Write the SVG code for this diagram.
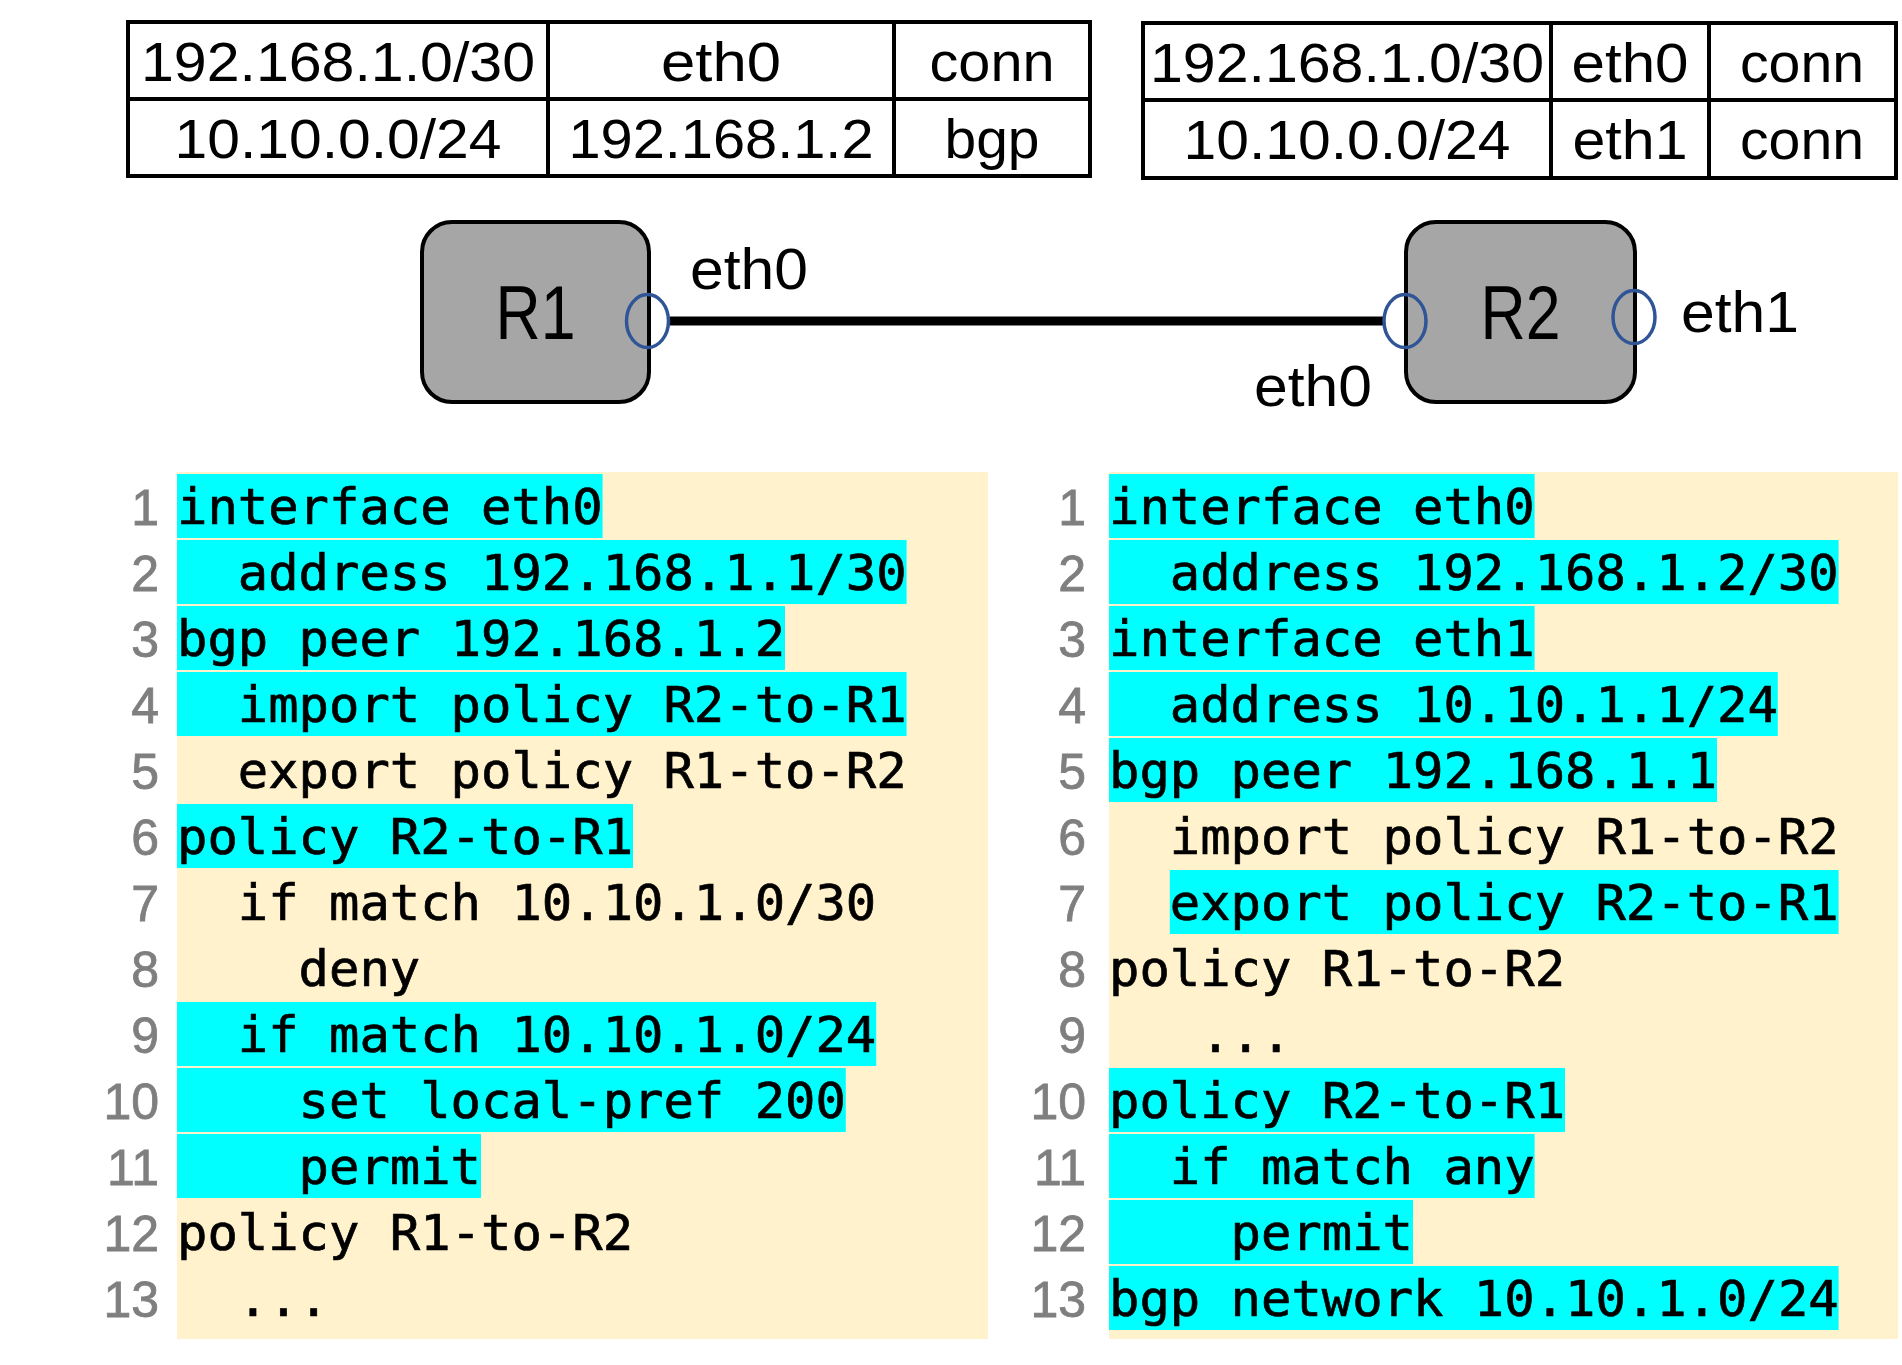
<svg xmlns="http://www.w3.org/2000/svg" width="1902" height="1365" viewBox="0 0 1902 1365">
<style>
.tbl{fill:#fff;stroke:#000;stroke-width:4}
.tl{stroke:#000;stroke-width:4}
.tt{font-family:"Liberation Sans",Arial,sans-serif;font-size:56px;fill:#000;text-anchor:middle}
.node{fill:#A6A6A6;stroke:#000;stroke-width:4}
.nt{font-family:"Liberation Sans",Arial,sans-serif;font-size:76px;fill:#000;text-anchor:middle}
.port{fill:none;stroke:#2F5597;stroke-width:3.5}
.pl{font-family:"Liberation Sans",Arial,sans-serif;font-size:57px;fill:#000}
.bg{fill:#FFF2CC}
.hl{fill:#00FFFF}
.code{font-family:"DejaVu Sans Mono","Liberation Mono",monospace;font-size:50.5px;fill:#000;stroke:#000;stroke-width:0.7}
.ln{font-family:"Liberation Sans",Arial,sans-serif;font-size:50px;fill:#7F7F7F;stroke:#7F7F7F;stroke-width:0.8;text-anchor:end}
</style>

<g id="table-R1">
  <rect class="tbl" x="128" y="22" width="962" height="154"/>
  <line class="tl" x1="128" y1="99" x2="1090" y2="99"/>
  <line class="tl" x1="548" y1="22" x2="548" y2="176"/>
  <line class="tl" x1="894" y1="22" x2="894" y2="176"/>
  <text class="tt" x="338" y="81" textLength="394" lengthAdjust="spacingAndGlyphs">192.168.1.0/30</text>
  <text class="tt" x="721" y="81" textLength="120" lengthAdjust="spacingAndGlyphs">eth0</text>
  <text class="tt" x="992" y="81" textLength="125" lengthAdjust="spacingAndGlyphs">conn</text>
  <text class="tt" x="338" y="158" textLength="327" lengthAdjust="spacingAndGlyphs">10.10.0.0/24</text>
  <text class="tt" x="721" y="158" textLength="305" lengthAdjust="spacingAndGlyphs">192.168.1.2</text>
  <text class="tt" x="992" y="158" textLength="95" lengthAdjust="spacingAndGlyphs">bgp</text>
</g>

<g id="table-R2">
  <rect class="tbl" x="1143" y="23" width="753" height="155"/>
  <line class="tl" x1="1143" y1="100" x2="1896" y2="100"/>
  <line class="tl" x1="1551" y1="23" x2="1551" y2="178"/>
  <line class="tl" x1="1709" y1="23" x2="1709" y2="178"/>
  <text class="tt" x="1347" y="82" textLength="394" lengthAdjust="spacingAndGlyphs">192.168.1.0/30</text>
  <text class="tt" x="1630" y="82" textLength="117" lengthAdjust="spacingAndGlyphs">eth0</text>
  <text class="tt" x="1802" y="82" textLength="124" lengthAdjust="spacingAndGlyphs">conn</text>
  <text class="tt" x="1347" y="159" textLength="327" lengthAdjust="spacingAndGlyphs">10.10.0.0/24</text>
  <text class="tt" x="1630" y="159" textLength="115" lengthAdjust="spacingAndGlyphs">eth1</text>
  <text class="tt" x="1802" y="159" textLength="124" lengthAdjust="spacingAndGlyphs">conn</text>
</g>

<g id="connectors">
  <line x1="670" y1="321" x2="1383" y2="321" stroke="#000" stroke-width="9"/>
</g>

<g id="R1">
  <rect class="node" x="422" y="222" width="227" height="180" rx="30" ry="30"/>
  <text class="nt" x="535.5" y="339" textLength="80" lengthAdjust="spacingAndGlyphs">R1</text>
  <ellipse class="port" cx="647.5" cy="321" rx="21" ry="26.5"/>
  <text class="pl" x="690" y="289" textLength="118" lengthAdjust="spacingAndGlyphs">eth0</text>
</g>

<g id="R2">
  <rect class="node" x="1406" y="222" width="229" height="180" rx="30" ry="30"/>
  <text class="nt" x="1520.5" y="339" textLength="80" lengthAdjust="spacingAndGlyphs">R2</text>
  <ellipse class="port" cx="1405" cy="321" rx="21" ry="26.5"/>
  <ellipse class="port" cx="1634" cy="317" rx="21" ry="26.5"/>
  <text class="pl" x="1254" y="406" textLength="118" lengthAdjust="spacingAndGlyphs">eth0</text>
  <text class="pl" x="1681" y="332" textLength="118" lengthAdjust="spacingAndGlyphs">eth1</text>
</g>

<g id="config-R1">
  <rect class="bg" x="177" y="472" width="811" height="867"/>
  <rect class="hl" x="177" y="474" width="425.6" height="64"/>
  <rect class="hl" x="177" y="540" width="729.6" height="64"/>
  <rect class="hl" x="177" y="606" width="608" height="64"/>
  <rect class="hl" x="177" y="672" width="729.6" height="64"/>
  <rect class="hl" x="177" y="804" width="456" height="64"/>
  <rect class="hl" x="177" y="1002" width="699.2" height="64"/>
  <rect class="hl" x="177" y="1068" width="668.8" height="64"/>
  <rect class="hl" x="177" y="1134" width="304" height="64"/>
  <text class="ln" x="159" y="525">1</text>
  <text class="ln" x="159" y="591">2</text>
  <text class="ln" x="159" y="657">3</text>
  <text class="ln" x="159" y="723">4</text>
  <text class="ln" x="159" y="789">5</text>
  <text class="ln" x="159" y="855">6</text>
  <text class="ln" x="159" y="921">7</text>
  <text class="ln" x="159" y="987">8</text>
  <text class="ln" x="159" y="1053">9</text>
  <text class="ln" x="159" y="1119">10</text>
  <text class="ln" x="159" y="1185">11</text>
  <text class="ln" x="159" y="1251">12</text>
  <text class="ln" x="159" y="1317">13</text>
  <text class="code" x="177" y="524">interface eth0</text>
  <text class="code" x="237.8" y="590">address 192.168.1.1/30</text>
  <text class="code" x="177" y="656">bgp peer 192.168.1.2</text>
  <text class="code" x="237.8" y="722">import policy R2-to-R1</text>
  <text class="code" x="237.8" y="788">export policy R1-to-R2</text>
  <text class="code" x="177" y="854">policy R2-to-R1</text>
  <text class="code" x="237.8" y="920">if match 10.10.1.0/30</text>
  <text class="code" x="298.6" y="986">deny</text>
  <text class="code" x="237.8" y="1052">if match 10.10.1.0/24</text>
  <text class="code" x="298.6" y="1118">set local-pref 200</text>
  <text class="code" x="298.6" y="1184">permit</text>
  <text class="code" x="177" y="1250">policy R1-to-R2</text>
  <text class="code" x="237.8" y="1316">...</text>
</g>

<g id="config-R2">
  <rect class="bg" x="1109" y="472" width="789" height="867"/>
  <rect class="hl" x="1109" y="474" width="425.6" height="64"/>
  <rect class="hl" x="1109" y="540" width="729.6" height="64"/>
  <rect class="hl" x="1109" y="606" width="425.6" height="64"/>
  <rect class="hl" x="1109" y="672" width="668.8" height="64"/>
  <rect class="hl" x="1109" y="738" width="608" height="64"/>
  <rect class="hl" x="1169.8" y="870" width="668.8" height="64"/>
  <rect class="hl" x="1109" y="1068" width="456" height="64"/>
  <rect class="hl" x="1109" y="1134" width="425.6" height="64"/>
  <rect class="hl" x="1109" y="1200" width="304" height="64"/>
  <rect class="hl" x="1109" y="1266" width="729.6" height="64"/>
  <text class="ln" x="1086" y="525">1</text>
  <text class="ln" x="1086" y="591">2</text>
  <text class="ln" x="1086" y="657">3</text>
  <text class="ln" x="1086" y="723">4</text>
  <text class="ln" x="1086" y="789">5</text>
  <text class="ln" x="1086" y="855">6</text>
  <text class="ln" x="1086" y="921">7</text>
  <text class="ln" x="1086" y="987">8</text>
  <text class="ln" x="1086" y="1053">9</text>
  <text class="ln" x="1086" y="1119">10</text>
  <text class="ln" x="1086" y="1185">11</text>
  <text class="ln" x="1086" y="1251">12</text>
  <text class="ln" x="1086" y="1317">13</text>
  <text class="code" x="1109" y="524">interface eth0</text>
  <text class="code" x="1169.8" y="590">address 192.168.1.2/30</text>
  <text class="code" x="1109" y="656">interface eth1</text>
  <text class="code" x="1169.8" y="722">address 10.10.1.1/24</text>
  <text class="code" x="1109" y="788">bgp peer 192.168.1.1</text>
  <text class="code" x="1169.8" y="854">import policy R1-to-R2</text>
  <text class="code" x="1169.8" y="920">export policy R2-to-R1</text>
  <text class="code" x="1109" y="986">policy R1-to-R2</text>
  <text class="code" x="1200.2" y="1052">...</text>
  <text class="code" x="1109" y="1118">policy R2-to-R1</text>
  <text class="code" x="1169.8" y="1184">if match any</text>
  <text class="code" x="1230.6" y="1250">permit</text>
  <text class="code" x="1109" y="1316">bgp network 10.10.1.0/24</text>
</g>
</svg>
